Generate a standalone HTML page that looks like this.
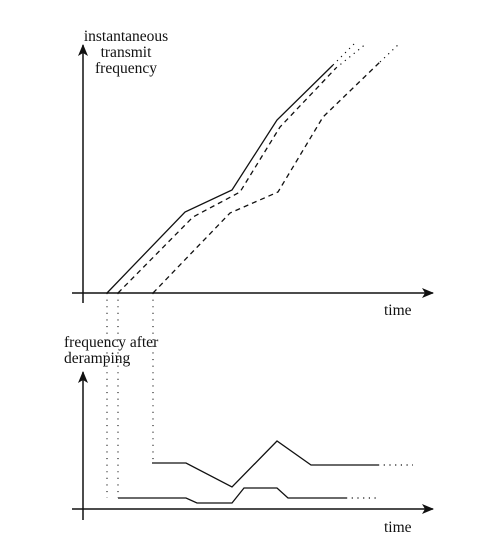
<!DOCTYPE html>
<html><head><meta charset="utf-8"><style>
html,body{margin:0;padding:0;background:#fff;}
svg{display:block;}
text{font-family:"Liberation Serif",serif;font-size:15.5px;fill:#111;}
</style></head><body>
<svg id="chart" width="484" height="548" viewBox="0 0 484 548" xmlns="http://www.w3.org/2000/svg">
<defs><marker id="arr" markerWidth="12" markerHeight="10" refX="11" refY="5" orient="auto" markerUnits="userSpaceOnUse"><path d="M0,0 L12,5 L0,10 L3,5 Z" fill="#111"/></marker></defs>
<g id="top">
<line x1="83" y1="303" x2="83" y2="45" stroke="#111" stroke-width="1.5" marker-end="url(#arr)"/>
<line x1="72" y1="293" x2="433" y2="293" stroke="#111" stroke-width="1.5" marker-end="url(#arr)"/>
<text text-anchor="middle" x="126" y="41">instantaneous</text>
<text text-anchor="middle" x="126" y="57">transmit</text>
<text text-anchor="middle" x="126" y="73">frequency</text>
<text x="384" y="315">time</text>
</g>
<g id="bot">
<line x1="83" y1="520" x2="83" y2="372" stroke="#111" stroke-width="1.5" marker-end="url(#arr)"/>
<line x1="72" y1="509" x2="433" y2="509" stroke="#111" stroke-width="1.5" marker-end="url(#arr)"/>
<text x="64" y="347">frequency after</text>
<text x="64" y="363">deramping</text>
<text x="384" y="532">time</text>
</g>
<g id="marks"></g>
</svg>
<script>
const solidT = [9.6, 40.8, 59.6, 77.6, 100, 108.8];
const solidF = [0, 32.4, 41.2, 69.2, 91.2, 100];
const dash1T = [14, 44, 62.8, 78.8, 101.2, 113.6];
const dash1F = [0, 30.4, 40.4, 66.4, 90, 100];
const dash2T = [28, 58.8, 78, 96, 118.8, 126.8];
const dash2F = [0, 32, 40.4, 70.4, 92.4, 100];
const upperT = [27.6, 41.2, 59.6, 77.6, 91.2, 118, 132];
const upperF = [18.4, 18.4, 8.8, 27.2, 17.6, 17.6, 17.6];
const lowerT = [14, 41.2, 45.6, 59.6, 64.4, 77.6, 82, 105.2, 117.2];
const lowerF = [4.4, 4.4, 2.4, 2.4, 8.4, 8.4, 4.4, 4.4, 4.4];
const guideT = [9.6, 14, 28];
const guideEndF = [4.4, 4.4, 18.4];

const NS = "http://www.w3.org/2000/svg";
const g = document.getElementById("marks");
const xS = t => 83 + t * 2.5;
const yTop = f => 293 - f * 2.5;
const yBot = f => 509 - f * 2.5;

function seg(pts, dash, name, w) {
  const p = document.createElementNS(NS, "polyline");
  p.setAttribute("points", pts.map(q => q.join(",")).join(" "));
  p.setAttribute("fill", "none");
  p.setAttribute("stroke", "#111");
  p.setAttribute("stroke-width", w || 1.3);
  if (dash) p.setAttribute("stroke-dasharray", dash);
  
  
  g.appendChild(p);
}
function series(T, F, ys, dash, name) {
  const pts = T.map((t, i) => [xS(t), ys(F[i])]);
  seg(pts.slice(0, pts.length - 1), dash, name);
  seg(pts.slice(pts.length - 2), "1.2 4.5", name + "-continuation", 1.2);
}
series(solidT, solidF, yTop, null, "solid-chirp-line");
series(dash1T, dash1F, yTop, "5 4", "dashed-chirp-line-1");
series(dash2T, dash2F, yTop, "5 4", "dashed-chirp-line-2");
series(upperT, upperF, yBot, null, "deramped-upper-line");
series(lowerT, lowerF, yBot, null, "deramped-lower-line");
guideT.forEach((t, i) => {
  const l = document.createElementNS(NS, "line");
  l.setAttribute("x1", xS(t)); l.setAttribute("x2", xS(t));
  l.setAttribute("y1", 293); l.setAttribute("y2", yBot(guideEndF[i]));
  l.setAttribute("stroke", "#111"); l.setAttribute("stroke-width", 1.1);
  l.setAttribute("stroke-dasharray", "1.1 5.5");
  
  
  g.appendChild(l);
});
</script>
</body></html>
